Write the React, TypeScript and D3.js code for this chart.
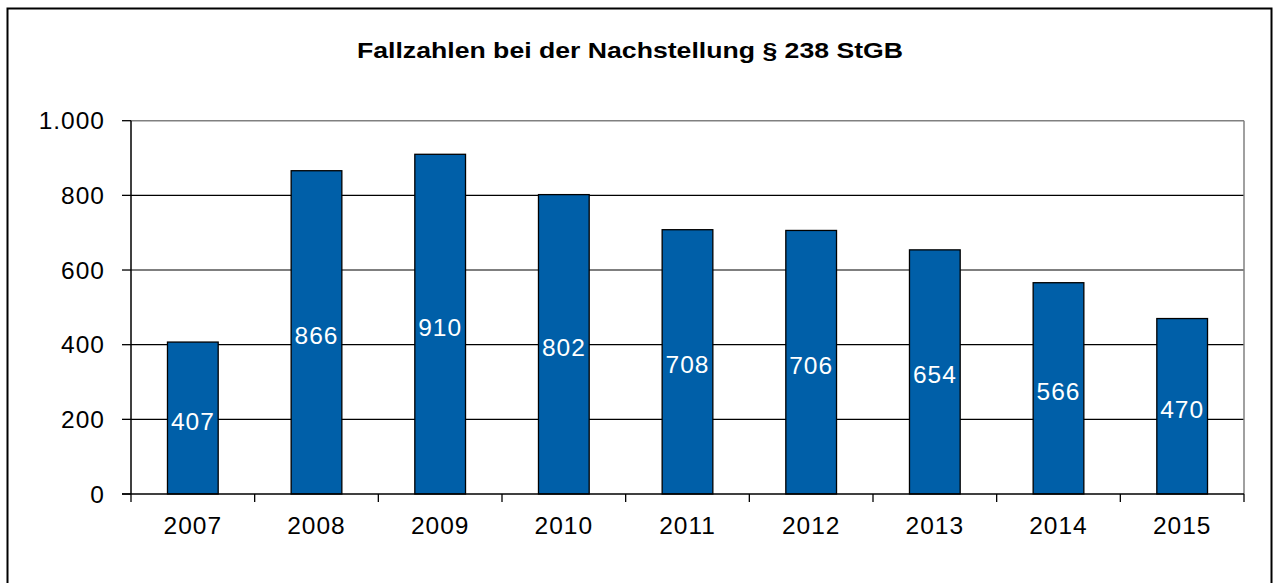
import React from "react";
import * as d3 from "d3";

const years = ["2007", "2008", "2009", "2010", "2011", "2012", "2013", "2014", "2015"];
const cases = [407, 866, 910, 802, 708, 706, 654, 566, 470];
const yTicks = [0, 200, 400, 600, 800, 1000];
const title = "Fallzahlen bei der Nachstellung § 238 StGB";

const W = 1276;
const H = 583;
const plot = { left: 131, right: 1244, top: 120.7, bottom: 494 };
const font = "'Liberation Sans', Arial, sans-serif";
const barColor = "#005FA8";

export default function App() {
  const x = d3.scaleBand<string>().domain(years).range([plot.left, plot.right]).paddingInner(0.59).paddingOuter(0.295);
  const step = (plot.right - plot.left) / years.length;
  const y = d3.scaleLinear().domain([0, 1000]).range([plot.bottom, plot.top]);
  const fmt = (v: number) => d3.format(",")(v).replace(/,/g, ".");

  return (
    <svg width={W} height={H} style={{ position: "absolute", left: 0, top: 0 }}>
      <rect x={0} y={0} width={W} height={H} fill="#fff" />
      <rect x={7.5} y={8.5} width={1264} height={620} fill="#fff" stroke="#000" strokeWidth={2} />
      <text x={630} y={58} textAnchor="middle" fontFamily={font} fontWeight="bold" fontSize={22} textLength={546} lengthAdjust="spacingAndGlyphs" fill="#000">
        {title}
      </text>
      {/* gridlines */}
      {yTicks.slice(1, -1).map((t) => (
        <line key={t} x1={plot.left} x2={plot.right} y1={y(t)} y2={y(t)} stroke="#000" strokeWidth={1.2} />
      ))}
      {/* plot border top/right */}
      <line x1={plot.left} x2={plot.right} y1={y(1000)} y2={y(1000)} stroke="#808080" strokeWidth={1.5} />
      <line x1={plot.right} x2={plot.right} y1={y(1000)} y2={plot.bottom} stroke="#808080" strokeWidth={1.5} />
      {/* bars */}
      {years.map((yr, i) => (
        <rect key={yr} x={x(yr)!} y={y(cases[i])} width={x.bandwidth()} height={y(0) - y(cases[i])} fill={barColor} stroke="#000" strokeWidth={1.3} />
      ))}
      {/* bar labels */}
      {years.map((yr, i) => (
        <text key={yr} x={x(yr)! + x.bandwidth() / 2} y={(y(cases[i]) + y(0)) / 2 + 11.5} textAnchor="middle" fontFamily={font} fontSize={24.5} letterSpacing={1} fill="#fff">
          {cases[i]}
        </text>
      ))}
      {/* axes */}
      <line x1={plot.left} x2={plot.left} y1={y(1000)} y2={plot.bottom} stroke="#000" strokeWidth={1.5} />
      <line x1={plot.left - 9} x2={plot.right} y1={plot.bottom} y2={plot.bottom} stroke="#000" strokeWidth={1.5} />
      {yTicks.map((t) => (
        <g key={t}>
          <line x1={plot.left - 9} x2={plot.left} y1={y(t)} y2={y(t)} stroke="#000" strokeWidth={1.3} />
          <text x={105} y={y(t) + 8.5} textAnchor="end" fontFamily={font} fontSize={24.5} letterSpacing={1} fill="#000">
            {fmt(t)}
          </text>
        </g>
      ))}
      {d3.range(years.length + 1).map((i) => (
        <line key={i} x1={plot.left + i * step} x2={plot.left + i * step} y1={plot.bottom} y2={plot.bottom + 8} stroke="#000" strokeWidth={1.3} />
      ))}
      {years.map((yr) => (
        <text key={yr} x={x(yr)! + x.bandwidth() / 2} y={534} textAnchor="middle" fontFamily={font} fontSize={24.5} letterSpacing={1} fill="#000">
          {yr}
        </text>
      ))}
    </svg>
  );
}
